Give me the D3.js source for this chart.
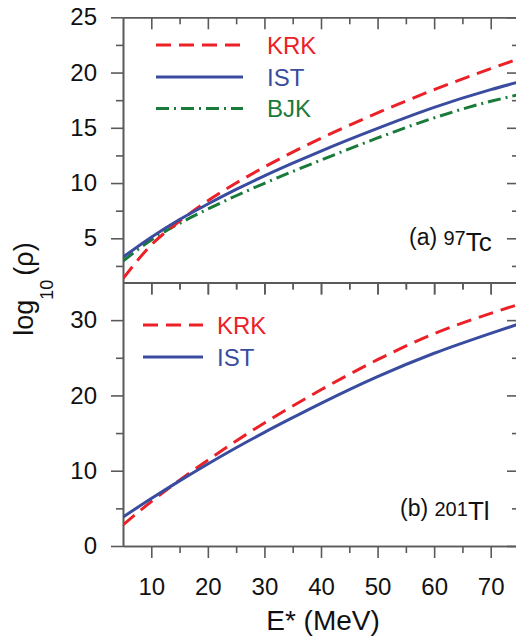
<!DOCTYPE html>
<html>
<head>
<meta charset="utf-8">
<script src="https://cdn.jsdelivr.net/npm/d3@7"></script>
<style>
  body { margin: 0; background: #fff; }
  svg { display: block; font-family: "Liberation Sans", Arial, Helvetica, sans-serif; }
</style>
</head>
<body>
<div id="chart"></div>
<script>
// 能级密度 log10(rho) 对激发能 E* 的比较：(a) 97Tc，(b) 201Tl

// 数据
const energy = [5, 10, 15, 20, 25, 30, 35, 40, 50, 60, 70, 75];
const tcKRK = [1.35, 4.4, 6.55, 8.4, 10.0, 11.45, 12.8, 14.05, 16.35, 18.45, 20.35, 21.25];
const tcIST = [3.3, 5.1, 6.7, 8.1, 9.42, 10.65, 11.8, 12.9, 14.95, 16.85, 18.45, 19.15];
const tcBJK = [2.95, 4.85, 6.35, 7.65, 8.85, 9.98, 11.05, 12.08, 14.08, 15.9, 17.4, 18.0];
const tlKRK = [2.8, 5.9, 8.75, 11.4, 13.95, 16.35, 18.6, 20.75, 24.75, 28.2, 30.9, 32.1];
const tlIST = [3.85, 6.3, 8.65, 10.9, 13.05, 15.1, 17.05, 18.95, 22.5, 25.6, 28.25, 29.5];

const xTicks = [10, 20, 30, 40, 50, 60, 70];
const xMinor = [15, 25, 35, 45, 55, 65];
const tcYTicks = [5, 10, 15, 20, 25];
const tcYMinor = [2.5, 7.5, 12.5, 17.5, 22.5];
const tlYTicks = [0, 10, 20, 30];
const tlYMinor = [5, 15, 25];

const W = 516, H = 637;
const left = 123, right = 519;
const colors = { KRK: "#ec2027", IST: "#3a4ca0", BJK: "#1a7a3a" };
const dashes = { KRK: "15,8", IST: null, BJK: "13,5,2,5" };
const axisColor = "#5a5a5a";

const svg = d3.select("#chart").append("svg")
    .attr("width", W)
    .attr("height", H);

const x = d3.scaleLinear().domain([5, 75]).range([left, right]);

// 两个面板
const panels = [
    {
        key: "a", top: 17.3, bottom: 282.5, domain: [1, 25],
        ticks: tcYTicks, minor: tcYMinor,
        series: [["KRK", tcKRK], ["IST", tcIST], ["BJK", tcBJK]],
        legend: { x0: 156, x1: 243, tx: 267, ys: [45, 77, 108.5] },
        label: { x: 409, y: 245, tag: "(a) ", mass: "97", el: "Tc", dy: 6 }
    },
    {
        key: "b", top: 282.5, bottom: 546, domain: [0, 35],
        ticks: tlYTicks, minor: tlYMinor,
        series: [["KRK", tlKRK], ["IST", tlIST]],
        legend: { x0: 143, x1: 203, tx: 217, ys: [325, 357] },
        label: { x: 400, y: 516, tag: "(b) ", mass: "201", el: "Tl", dy: 4 }
    }
];

function styleAxis(g) {
    g.select(".domain").attr("stroke", axisColor).attr("stroke-width", 1.6);
    g.selectAll(".tick line").attr("stroke", axisColor).attr("stroke-width", 1.6);
    g.selectAll(".tick text")
        .attr("fill", "#111")
        .style("font-size", "24px")
        .style("font-family", "'Liberation Sans', Arial, sans-serif");
}

panels.forEach((p, pi) => {
    const y = d3.scaleLinear().domain(p.domain).range([p.bottom, p.top]);
    const g = svg.append("g").attr("class", "panel-" + p.key);

    // 左轴：刻度朝外
    g.append("g")
        .attr("transform", `translate(${left},0)`)
        .call(d3.axisLeft(y).tickValues(p.ticks).tickSize(12).tickSizeOuter(0).tickPadding(14))
        .call(styleAxis);
    g.append("g")
        .attr("transform", `translate(${left},0)`)
        .call(d3.axisLeft(y).tickValues(p.minor).tickSize(7).tickSizeOuter(0).tickFormat(""))
        .call(styleAxis);

    // 右轴：刻度朝内
    g.append("g")
        .attr("transform", `translate(${right},0)`)
        .call(d3.axisRight(y).tickValues(p.ticks).tickSize(-12).tickSizeOuter(0).tickFormat(""))
        .call(styleAxis);
    g.append("g")
        .attr("transform", `translate(${right},0)`)
        .call(d3.axisRight(y).tickValues(p.minor).tickSize(-7).tickSizeOuter(0).tickFormat(""))
        .call(styleAxis);

    // 上边：刻度朝内（向下）
    g.append("g")
        .attr("transform", `translate(0,${p.top})`)
        .call(d3.axisBottom(x).tickValues(xTicks).tickSize(12).tickSizeOuter(0).tickFormat(""))
        .call(styleAxis);
    g.append("g")
        .attr("transform", `translate(0,${p.top})`)
        .call(d3.axisBottom(x).tickValues(xMinor).tickSize(7).tickSizeOuter(0).tickFormat(""))
        .call(styleAxis);

    // 下边：刻度朝外（向下）
    const bottomAxis = g.append("g")
        .attr("transform", `translate(0,${p.bottom})`)
        .call(d3.axisBottom(x).tickValues(xTicks).tickSize(12).tickSizeOuter(0)
            .tickFormat(pi === 1 ? d3.format("d") : ""))
        .call(styleAxis);
    bottomAxis.selectAll(".tick text").attr("y", 49).attr("dy", 0);
    g.append("g")
        .attr("transform", `translate(0,${p.bottom})`)
        .call(d3.axisBottom(x).tickValues(xMinor).tickSize(7).tickSizeOuter(0).tickFormat(""))
        .call(styleAxis);

    // 曲线
    const line = d3.line()
        .x(d => x(d[0]))
        .y(d => y(d[1]))
        .curve(d3.curveMonotoneX);

    const clipId = "clip-" + p.key;
    svg.append("clipPath").attr("id", clipId)
        .append("rect")
        .attr("x", left).attr("y", p.top)
        .attr("width", right - left).attr("height", p.bottom - p.top);

    // 先画 BJK，再画 KRK，最后画 IST
    const order = ["BJK", "KRK", "IST"];
    const sorted = p.series.slice().sort((a, b) => order.indexOf(a[0]) - order.indexOf(b[0]));
    sorted.forEach(([name, vals]) => {
        g.append("path")
            .datum(energy.map((e, i) => [e, vals[i]]))
            .attr("clip-path", `url(#${clipId})`)
            .attr("fill", "none")
            .attr("stroke", colors[name])
            .attr("stroke-width", 3)
            .attr("stroke-dasharray", dashes[name])
            .attr("d", line);
    });

    // 图例
    p.series.forEach(([name], i) => {
        const ly = p.legend.ys[i];
        g.append("line")
            .attr("x1", p.legend.x0).attr("x2", p.legend.x1)
            .attr("y1", ly).attr("y2", ly)
            .attr("stroke", colors[name])
            .attr("stroke-width", 3)
            .attr("stroke-dasharray", dashes[name]);
        g.append("text")
            .attr("x", p.legend.tx)
            .attr("y", ly + 8.5)
            .attr("fill", colors[name])
            .style("font-size", "24px")
            .text(name);
    });

    // 核素标注
    const t = g.append("text")
        .attr("x", p.label.x)
        .attr("y", p.label.y)
        .attr("fill", "#111");
    t.append("tspan").style("font-size", "23px").text(p.label.tag);
    t.append("tspan").style("font-size", "20px").text(p.label.mass);
    t.append("tspan").style("font-size", "26px").attr("dy", p.label.dy).text(p.label.el);
});

// 轴标题
svg.append("text")
    .attr("x", (left + right) / 2 + 2)
    .attr("y", 630)
    .attr("text-anchor", "middle")
    .attr("fill", "#111")
    .style("font-size", "28px")
    .text("E* (MeV)");

const yl = svg.append("text")
    .attr("transform", "translate(33,289) rotate(-90)")
    .attr("text-anchor", "middle")
    .attr("fill", "#111")
    .style("font-size", "27px");
yl.append("tspan").text("log");
yl.append("tspan").attr("dy", 20).style("font-size", "18px").text("10");
yl.append("tspan").attr("dy", -20).attr("dx", 4).text("(ρ)");
</script>
</body>
</html>
